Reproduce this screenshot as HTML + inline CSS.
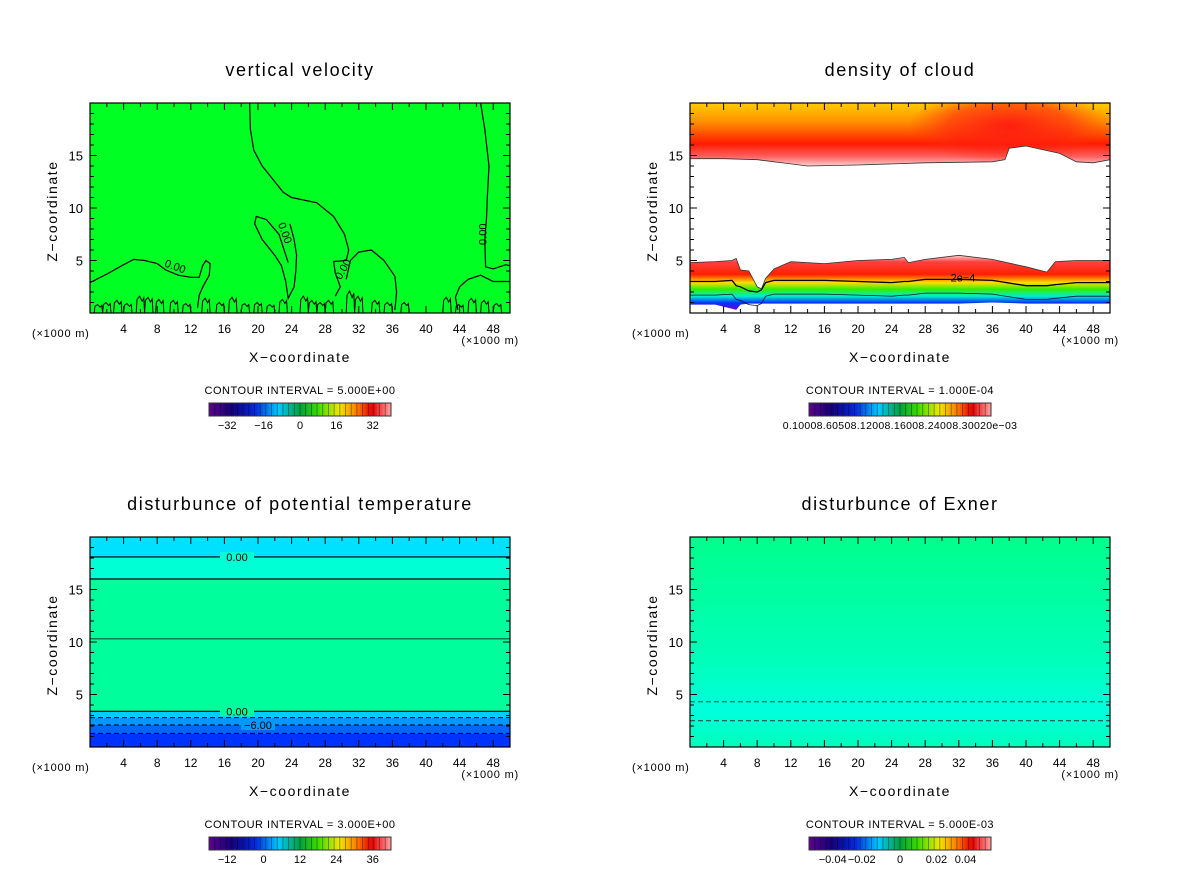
<!DOCTYPE html>
<html><head><meta charset="utf-8"><style>
html,body{margin:0;padding:0;background:#fff;}
svg text{font-family:"Liberation Sans",sans-serif;fill:#000;}
</style></head><body>
<svg id="fig" width="1200" height="868" xmlns="http://www.w3.org/2000/svg">
<defs>
<linearGradient id="gCloudTop" x1="0" y1="1" x2="0" y2="0">
<stop offset="0" stop-color="#ffd0d0"/><stop offset="0.15" stop-color="#ff6060"/><stop offset="0.35" stop-color="#ff1a00"/><stop offset="0.7" stop-color="#ff9000"/><stop offset="1" stop-color="#ffcc00"/></linearGradient>
<radialGradient id="gBulge" cx="0.5" cy="0.5" r="0.5">
<stop offset="0" stop-color="#ff1a10" stop-opacity="0.95"/><stop offset="0.6" stop-color="#ff2010" stop-opacity="0.6"/><stop offset="1" stop-color="#ff3010" stop-opacity="0"/></radialGradient>
<linearGradient id="gCloudLow" x1="0" y1="0" x2="0" y2="1">
<stop offset="0" stop-color="#ffd0d0"/><stop offset="0.12" stop-color="#ff4040"/><stop offset="0.35" stop-color="#ff2000"/><stop offset="0.5" stop-color="#ffdd00"/><stop offset="0.62" stop-color="#33ee00"/><stop offset="0.75" stop-color="#00eecc"/><stop offset="0.87" stop-color="#0033ff"/><stop offset="1" stop-color="#7700cc"/></linearGradient>
<linearGradient id="gExner" x1="0" y1="0" x2="0" y2="1">
<stop offset="0" stop-color="#00ff8c"/><stop offset="0.6" stop-color="#00ffbb"/><stop offset="0.82" stop-color="#00ffdd"/><stop offset="1" stop-color="#00ffbb"/></linearGradient>
</defs>
</svg>
<script>
const NS="http://www.w3.org/2000/svg";
const svg=document.getElementById('fig');
// ---- data ----
const xTicks=[4,8,12,16,20,24,28,32,36,40,44,48];
const yTicks=[5,10,15];
const titles=["vertical velocity","density of cloud","disturbunce of potential temperature","disturbunce of Exner"];
const intervals=["CONTOUR INTERVAL = 5.000E+00","CONTOUR INTERVAL = 1.000E-04","CONTOUR INTERVAL = 3.000E+00","CONTOUR INTERVAL = 5.000E-03"];
const cbLabels0=["−32","−16","0","16","32"];
const cbLabels2=["−12","0","12","24","36"];
const cbLabels3=["−0.04","−0.02","0","0.02","0.04"];
// vertical velocity zero contours (x km, z km)
const wLineMainX=[19,19.1,19.5,20.5,22,23,24,27,29,30.3,30.8,30.5,29,29.2,29.8,29.2];
const wLineMainZ=[20,17.5,15.5,14,12.5,11.5,11,10.5,9.2,7.5,6,5.0,4.9,3.8,2.5,1.6];
const wLineLeftX=[0,2,4,5.2,6.5,8,9,10.5,12,13,13.4,13.8,14.3,14.2,13.5,13,12.8];
const wLineLeftZ=[2.9,3.7,4.6,5.1,5.0,4.7,4.1,3.6,3.4,3.4,4.5,5.0,4.7,3.6,2.6,1.7,0.5];
const wLineLoopX=[23.6,22.5,21,19.8,19.6,20.5,22,22.8,23.3,23.6,24.3,24.5,24.6,24.3,23.8];
const wLineLoopZ=[4.8,7.5,8.9,9.2,8.5,7,5.5,4.5,3,1.4,2.5,4.0,5.5,7,8.5];
const wLineR1X=[46.5,47,47.5,47.3,47.2,47.0,47.1,48,49.5,50];
const wLineR1Z=[20,17.5,14,11,9,7,4.4,4.2,4.6,4.5];
const wLineR2X=[50,48,46.5,45,44,43.5,43.8];
const wLineR2Z=[3.0,3.0,3.6,3.2,2.5,1.5,0.3];
const wLineR3X=[30.5,31,32,33.5,35,36.3,36.5,36.3];
const wLineR3Z=[3.2,5.0,5.8,6.0,5.0,3.5,2.0,0.3];
// near-surface eddies: center x, height z
const eddyX=[1,2,3.3,4.5,6,7,8.3,10,11.5,13.8,15.5,17,18.5,20,21.5,23,25.5,26.5,27.5,28.5,31,32,34,35.5,37.5,42.5,44,45.5,47,48.5];
const eddyZ=[0.8,1.0,1.2,0.9,1.6,1.5,1.3,1.2,0.9,1.4,1.0,1.5,0.9,1.0,0.8,1.3,1.6,1.2,1.0,1.2,2.1,1.6,1.2,1.0,1.0,1.5,0.8,1.4,1.2,0.9];
// cloud boundaries
const cloudTopX=[0,4,8,12,14,20,28,36,37.5,38,40,44,46,48,50];
const cloudTopZ=[14.7,14.7,14.6,14.2,14.0,14.1,14.3,14.4,14.6,15.7,15.9,15.2,14.4,14.3,14.6];
const cloudLowX=[0,3,5,5.5,6,7,8,8.5,9,10,12,16,20,24,25.5,26,28,32,36,40,42.5,43.5,46,50];
const cloudLowZ=[4.8,4.9,5.0,5.2,4.1,4.0,2.5,2.3,3.3,4.2,4.9,4.7,5.0,5.1,5.3,4.8,5.1,5.5,5.1,4.4,3.9,4.9,5.0,5.0];
const cloudBotZ=[0.8,0.8,0.4,0.3,0.8,0.9,0.9,0.9,0.9,0.9,0.9,0.9,0.9,0.9,0.9,0.9,0.9,0.9,1.0,0.9,0.9,0.9,0.9,0.9];
const cloud2e4Z=[3.0,3.0,3.1,2.6,2.5,2.1,2.0,2.2,2.9,3.1,3.1,3.1,3.0,2.9,3.0,3.0,3.2,3.2,3.1,2.6,2.6,2.7,2.9,2.9];
// potential temperature bands (z bounds from top) and colors
const thetaBandTop=[20,18.1,16.0,3.4,2.8,2.1,1.3];
const thetaBandColor=["#00e0ff","#00ffd5","#00ff9c","#00ccff","#0099ff","#0066ff","#0033ff"];
const thetaSolid=[18.1,16.0,10.3,3.4];
const thetaDashed=[2.8,2.1,1.3];
const exnerDashed=[4.3,2.5];

// ---- helpers ----
function el(tag,attrs,parent,name,inter){const e=document.createElementNS(NS,tag);for(const k in attrs)e.setAttribute(k,attrs[k]);
 
 
 (parent||svg).appendChild(e);return e;}
function txt(x,y,s,size,anchor,parent,name,extra){const t=el('text',Object.assign({x:x,y:y,'font-size':size,'text-anchor':anchor||'middle'},extra||{}),parent,name,false);t.textContent=s;return t;}
const panels=[{x:90,y:103},{x:690,y:103},{x:90,y:537},{x:690,y:537}];
const PW=420,PH=210,XMAX=50,ZMAX=20;
function sx(p,v){return p.x+v/XMAX*PW;}
function sy(p,v){return p.y+PH-v/ZMAX*PH;}
function pathFrom(p,xs,zs){return xs.map((v,i)=>(i?'L':'M')+sx(p,v).toFixed(1)+','+sy(p,zs[i]).toFixed(1)).join(' ');}
function rainbow(t){const stops=[[0.0,[90,0,140]],[0.12,[20,0,120]],[0.25,[0,40,220]],[0.38,[0,200,255]],[0.5,[0,160,60]],[0.6,[60,220,0]],[0.72,[240,230,0]],[0.82,[255,120,0]],[0.9,[230,0,0]],[1,[255,150,150]]];
 for(let i=1;i<stops.length;i++){if(t<=stops[i][0]){const a=stops[i-1],b=stops[i];const f=(t-a[0])/(b[0]-a[0]);return 'rgb('+a[1].map((c,j)=>Math.round(c+(b[1][j]-c)*f)).join(',')+')';}}return 'rgb(255,150,150)';}

panels.forEach((p,i)=>{
 const g=el('g',{},svg,'panel-'+(i+1),false);
 txt(p.x+210,p.y-27,titles[i],18,'middle',g,'panel-title',{'letter-spacing':'1.6'});
 const plot=el('g',{},g,'plot-area',false);
 const clip=el('clipPath',{id:'c'+i},g,'clip',false);el('rect',{x:p.x,y:p.y,width:PW,height:PH},clip,'clip-rect',false);
 plot.setAttribute('clip-path','url(#c'+i+')');
 if(i===0){
  el('rect',{x:p.x,y:p.y,width:PW,height:PH,fill:'#00ff22'},plot,'velocity-field',false);
  [[wLineMainX,wLineMainZ],[wLineLeftX,wLineLeftZ],[wLineLoopX,wLineLoopZ],[wLineR1X,wLineR1Z],[wLineR2X,wLineR2Z],[wLineR3X,wLineR3Z]].forEach((l,k)=>{
   el('path',{d:pathFrom(p,l[0],l[1]),fill:'none',stroke:'#000','stroke-width':1.2},plot,'zero-contour-'+(k+1),false);});
  eddyX.forEach((x,k)=>{const z=eddyZ[k];const xs=[x-0.5,x-0.4,x-0.1,x+0.2,x+0.4,x+0.5];const zs=[0,z*0.8,z,z*0.7,z*0.9,0];
   el('path',{d:pathFrom(p,xs,zs),fill:'none',stroke:'#000','stroke-width':1},plot,'surface-eddy',false);});
  txt(sx(p,10),sy(p,4.1),'0.00',11,'middle',plot,'contour-label',{transform:'rotate(20 '+sx(p,10)+' '+sy(p,4.1)+')'});
  txt(sx(p,22.8),sy(p,7.5),'0.00',11,'middle',plot,'contour-label',{transform:'rotate(70 '+sx(p,22.8)+' '+sy(p,7.5)+')'});
  txt(sx(p,30.5),sy(p,4.0),'0.00',11,'middle',plot,'contour-label',{transform:'rotate(-60 '+sx(p,30.5)+' '+sy(p,4.0)+')'});
  txt(sx(p,47.2),sy(p,7.5),'0.00',11,'middle',plot,'contour-label',{transform:'rotate(-90 '+sx(p,47.2)+' '+sy(p,7.5)+')'});
 } else if(i===1){
  el('rect',{x:p.x,y:p.y,width:PW,height:PH,fill:'#fff'},plot,'cloud-background',false);
  const top=pathFrom(p,cloudTopX,cloudTopZ)+' L'+sx(p,50)+','+p.y+' L'+p.x+','+p.y+' Z';
  el('path',{d:top,fill:'url(#gCloudTop)'},plot,'upper-cloud-layer',false);
  const tclip=el('clipPath',{id:'ctop'},g,'clip-top',false);el('path',{d:top},tclip,'clip-top-path',false);
  el('ellipse',{cx:sx(p,38),cy:sy(p,17.8),rx:(12/XMAX*PW),ry:(3.6/ZMAX*PH),fill:'url(#gBulge)','clip-path':'url(#ctop)'},plot,'cloud-bulge',false);
  el('path',{d:pathFrom(p,cloudTopX,cloudTopZ),fill:'none',stroke:'#333','stroke-width':0.8},plot,'upper-cloud-edge',false);
  const bx=cloudLowX.slice().reverse(),bz=cloudBotZ.slice().reverse();
  const low=pathFrom(p,cloudLowX,cloudLowZ)+' '+bx.map((v,k)=>'L'+sx(p,v).toFixed(1)+','+sy(p,bz[k]).toFixed(1)).join(' ')+' Z';
  el('path',{d:low,fill:'url(#gCloudLow)'},plot,'lower-cloud-layer',false);
  el('path',{d:pathFrom(p,cloudLowX,cloudLowZ),fill:'none',stroke:'#333','stroke-width':0.8},plot,'lower-cloud-edge',false);
  el('path',{d:pathFrom(p,cloudLowX,cloud2e4Z),fill:'none',stroke:'#000','stroke-width':1.3},plot,'contour-2e-4',false);
  el('path',{d:pathFrom(p,cloudLowX,cloud2e4Z.map(z=>z-1.3)),fill:'none',stroke:'#114','stroke-width':0.8},plot,'contour-low',false);
  txt(sx(p,32.5),sy(p,3.0),'2e−4',11,'middle',plot,'contour-label');
 } else if(i===2){
  thetaBandTop.forEach((zt,k)=>{const zb=k+1<thetaBandTop.length?thetaBandTop[k+1]:0;
   el('rect',{x:p.x,y:sy(p,zt),width:PW,height:sy(p,zb)-sy(p,zt),fill:thetaBandColor[k]},plot,'theta-band',false);});
  thetaSolid.forEach((z,k)=>el('line',{x1:p.x,x2:p.x+PW,y1:sy(p,z),y2:sy(p,z),stroke:'#000','stroke-width':k===2?0.8:1.2},plot,'theta-contour-solid',false));
  thetaDashed.forEach(z=>el('line',{x1:p.x,x2:p.x+PW,y1:sy(p,z),y2:sy(p,z),stroke:'#000','stroke-width':1,'stroke-dasharray':'5,3'},plot,'theta-contour-dashed',false));
  [[18.1,'0.00',17.5],[3.4,'0.00',17.5],[2.1,'−6.00',20]].forEach(l=>{const cx=sx(p,l[2]);
   el('rect',{x:cx-17,y:sy(p,l[0])-5,width:34,height:10,fill:l[0]>3?(l[0]>17?'#00ffd5':'#00ff9c'):'#0099ff'},plot,'label-gap',false);
   txt(cx,sy(p,l[0])+4,l[1],11,'middle',plot,'contour-label');});
 } else {
  el('rect',{x:p.x,y:p.y,width:PW,height:PH,fill:'url(#gExner)'},plot,'exner-field',false);
  exnerDashed.forEach(z=>el('line',{x1:p.x,x2:p.x+PW,y1:sy(p,z),y2:sy(p,z),stroke:'#333','stroke-width':0.9,'stroke-dasharray':'5,3'},plot,'exner-contour-dashed',false));
 }
 // frame & ticks
 el('rect',{x:p.x,y:p.y,width:PW,height:PH,fill:'none',stroke:'#000','stroke-width':1.2},g,'plot-frame',false);
 for(let v=2;v<XMAX;v+=2){const X=sx(p,v),L=(v%4===0)?7:4;
  el('line',{x1:X,x2:X,y1:p.y+PH,y2:p.y+PH-L,stroke:'#000'},g,'x-tick',false);
  el('line',{x1:X,x2:X,y1:p.y,y2:p.y+L,stroke:'#000'},g,'x-tick-top',false);}
 for(let v=1;v<ZMAX;v+=1){const Y=sy(p,v),L=(v%5===0)?7:4;
  el('line',{x1:p.x,x2:p.x+L,y1:Y,y2:Y,stroke:'#000'},g,'y-tick',false);
  el('line',{x1:p.x+PW,x2:p.x+PW-L,y1:Y,y2:Y,stroke:'#000'},g,'y-tick-right',false);}
 xTicks.forEach(v=>txt(sx(p,v),p.y+PH+20,String(v),12,'middle',g,'x-tick-label'));
 yTicks.forEach(v=>txt(p.x-7,sy(p,v)+5,String(v),13,'end',g,'y-tick-label'));
 txt(p.x-58,p.y+PH+24,'(×1000 m)',11,'start',g,'x-unit-left',{'letter-spacing':'0.8'});
 txt(p.x+PW+9,p.y+PH+31,'(×1000 m)',11,'end',g,'x-unit-right',{'letter-spacing':'0.8'});
 txt(p.x+210,p.y+PH+49,'X−coordinate',14,'middle',g,'x-axis-title',{'letter-spacing':'1.6'});
 txt(0,0,'Z−coordinate',14,'middle',g,'y-axis-title',{transform:'translate('+(p.x-33)+','+(p.y+PH/2+3)+') rotate(-90)','letter-spacing':'1.6'});
 txt(p.x+210,p.y+PH+81,intervals[i],11,'middle',g,'contour-interval',{'letter-spacing':'0.5'});
 // colorbar
 const cb=el('g',{},g,'colorbar',false);const cx0=p.x+119,cw=182,cy0=p.y+PH+90,ch=13,N=64;
 for(let k=0;k<N;k++){const t=k/(N-1);el('rect',{x:cx0+k*cw/N,y:cy0,width:cw/N+0.3,height:ch,fill:rainbow(t)},cb,'colorbar-swatch',false);
  if(k%2===0)el('line',{x1:cx0+k*cw/N,x2:cx0+k*cw/N,y1:cy0,y2:cy0+ch,stroke:'rgba(0,0,0,0.45)','stroke-width':0.8},cb,'colorbar-divider',false);}
 el('rect',{x:cx0,y:cy0,width:cw,height:ch,fill:'none',stroke:'#333'},cb,'colorbar-frame',false);
 const labs=i===0?cbLabels0:i===2?cbLabels2:i===3?cbLabels3:null;
 if(labs){const pos=i===3?[0.13,0.29,0.5,0.7,0.86]:[0.1,0.3,0.5,0.7,0.9];labs.forEach((s,k)=>txt(cx0+pos[k]*cw,cy0+ch+13,s,11,'middle',cb,'colorbar-label'));}
 else txt(cx0+cw/2,cy0+ch+13,'0.10008.60508.12008.16008.24008.30020e−03',10.5,'middle',cb,'colorbar-label',{'letter-spacing':'0.3'});
});
</script>
</body></html>
